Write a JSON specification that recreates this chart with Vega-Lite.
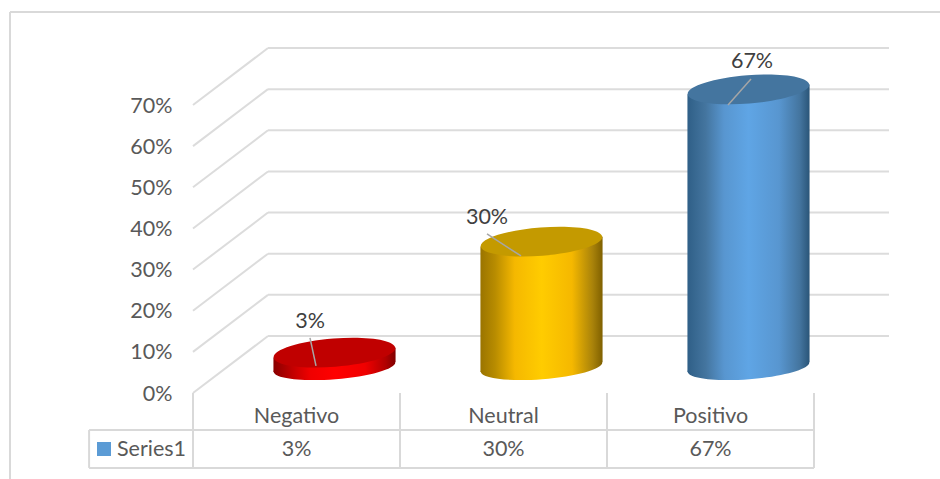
{
  "$schema": "https://vega.github.io/schema/vega-lite/v6.json",
  "width": 621,
  "height": 288,
  "autosize": "none",
  "padding": {"left": 193, "right": 126, "top": 105, "bottom": 86},
  "background": "white",
  "config": {
    "view": {"stroke": null},
    "numberFormat": ".0%",
    "axisX": {"disable": true},
    "axisY": {"domain": false, "ticks": false, "grid": false, "labelFont": "Lato", "labelFontSize": 21.5, "labelColor": "#595959", "labelPadding": 21, "labelOffset": 1},
    "text": {"font": "Lato", "fontSize": 21.5, "color": "#595959"}
  },
  "datasets": {
    "respuestas": [
      {"categoria": "Negativo", "orden": 0, "valor": 0.03},
      {"categoria": "Neutral", "orden": 1, "valor": 0.30},
      {"categoria": "Positivo", "orden": 2, "valor": 0.67}
    ],
    "niveles": [
      {"nivel": 0}, {"nivel": 0.1}, {"nivel": 0.2}, {"nivel": 0.3},
      {"nivel": 0.4}, {"nivel": 0.5}, {"nivel": 0.6}, {"nivel": 0.7}
    ],
    "columnas": [{"borde": 0}, {"borde": 1}, {"borde": 2}, {"borde": 3}],
    "serie": [{"nombre": "Series1"}]
  },
  "data": {"name": "respuestas"},
  "transform": [{"calculate": "datum.orden + 0.5", "as": "centro"}],
  "layer": [
    {
      "description": "Chart frame: left and top edges",
      "data": {"name": "serie"},
      "transform": [],
      "layer": [
        {
          "mark": {"type": "rule", "color": "#D9D9D9", "strokeWidth": 2},
          "encoding": {
            "x": {"datum": -0.884, "type": "quantitative", "scale": {"domain": [0, 3], "nice": false, "zero": false}},
            "y": {"datum": -0.209, "type": "quantitative", "axis": {"title": null}, "scale": {"domain": [0, 0.7], "nice": false, "zero": false}},
            "y2": {"datum": 0.926}
          }
        },
        {
          "mark": {"type": "rule", "color": "#D9D9D9", "strokeWidth": 2},
          "encoding": {
            "x": {"datum": -0.884, "type": "quantitative"},
            "x2": {"datum": 3.61},
            "y": {"datum": 0.926, "type": "quantitative"}
          }
        }
      ]
    },
    {
      "description": "Depth gridlines: the slanted floor edge and the back wall",
      "data": {"name": "niveles"},
      "transform": [],
      "layer": [
        {
          "mark": {"type": "rule", "color": "#DCDCDC", "strokeWidth": 2, "x2Offset": 75, "y2Offset": -57},
          "encoding": {
            "x": {"datum": 0, "type": "quantitative"},
            "x2": {"datum": 0},
            "y": {"field": "nivel", "type": "quantitative"},
            "y2": {"field": "nivel"}
          }
        },
        {
          "mark": {"type": "rule", "color": "#DCDCDC", "strokeWidth": 2, "xOffset": 75, "x2Offset": 75, "yOffset": -57},
          "encoding": {
            "x": {"datum": 0, "type": "quantitative"},
            "x2": {"datum": 3},
            "y": {"field": "nivel", "type": "quantitative"}
          }
        }
      ]
    },
    {
      "description": "Data table grid under the plot",
      "layer": [
        {
          "data": {"name": "columnas"},
          "transform": [],
          "mark": {"type": "rule", "color": "#D9D9D9", "strokeWidth": 2},
          "encoding": {
            "x": {"field": "borde", "type": "quantitative"},
            "y": {"datum": 0, "type": "quantitative"},
            "y2": {"datum": -0.182}
          }
        },
        {
          "data": {"name": "serie"},
          "transform": [],
          "layer": [
            {
              "mark": {"type": "rule", "color": "#D9D9D9", "strokeWidth": 2},
              "encoding": {
                "x": {"datum": -0.502, "type": "quantitative"},
                "y": {"datum": -0.09, "type": "quantitative"},
                "y2": {"datum": -0.182}
              }
            },
            {
              "mark": {"type": "rule", "color": "#D9D9D9", "strokeWidth": 2},
              "encoding": {
                "x": {"datum": -0.502, "type": "quantitative"},
                "x2": {"datum": 3},
                "y": {"datum": -0.09, "type": "quantitative"}
              }
            },
            {
              "mark": {"type": "rule", "color": "#D9D9D9", "strokeWidth": 2},
              "encoding": {
                "x": {"datum": -0.502, "type": "quantitative"},
                "x2": {"datum": 3},
                "y": {"datum": -0.182, "type": "quantitative"}
              }
            }
          ]
        }
      ]
    },
    {
      "description": "Data table text: category row, value row and the series key",
      "layer": [
        {
          "mark": {"type": "text", "yOffset": 24},
          "encoding": {
            "x": {"field": "centro", "type": "quantitative"},
            "y": {"datum": 0, "type": "quantitative"},
            "text": {"field": "categoria"}
          }
        },
        {
          "mark": {"type": "text", "yOffset": 57},
          "encoding": {
            "x": {"field": "centro", "type": "quantitative"},
            "y": {"datum": 0, "type": "quantitative"},
            "text": {"field": "valor", "format": ".0%"}
          }
        },
        {
          "data": {"name": "serie"},
          "transform": [],
          "layer": [
            {
              "mark": {"type": "point", "shape": "square", "filled": true, "opacity": 1, "strokeWidth": 0, "size": 196, "color": "#5B9BD5", "xOffset": -89, "yOffset": 56},
              "encoding": {
                "x": {"datum": 0, "type": "quantitative"},
                "y": {"datum": 0, "type": "quantitative"}
              }
            },
            {
              "mark": {"type": "text", "align": "left", "xOffset": -76, "yOffset": 57},
              "encoding": {
                "x": {"datum": 0, "type": "quantitative"},
                "y": {"datum": 0, "type": "quantitative"},
                "text": {"field": "nombre"}
              }
            }
          ]
        }
      ]
    },
    {
      "description": "Negativo cylinder",
      "transform": [{"filter": "datum.categoria === 'Negativo'"}],
      "layer": [
        {
          "mark": {"type": "point", "filled": true, "opacity": 1, "strokeWidth": 0, "size": 14884, "angle": -4.5, "xOffset": 38, "yOffset": -26,
            "shape": "M-1,0A1,0.2 0 1 0 1,0A1,0.2 0 1 0 -1,0Z",
            "fill": {"gradient": "linear", "x1": 0, "x2": 1, "y1": 0, "y2": 0, "stops": [{"offset": 0, "color": "#8A0000"}, {"offset": 0.15, "color": "#C00000"}, {"offset": 0.3, "color": "#F00000"}, {"offset": 0.5, "color": "#FF0000"}, {"offset": 0.75, "color": "#F00000"}, {"offset": 0.92, "color": "#B00000"}, {"offset": 1, "color": "#800000"}]}},
          "encoding": {
            "x": {"field": "centro", "type": "quantitative"},
            "y": {"datum": 0, "type": "quantitative"}
          }
        },
        {
          "transform": [
            {"calculate": "[-1, 1]", "as": "lado"},
            {"flatten": ["lado"]},
            {"calculate": "datum.centro + datum.lado * 0.295", "as": "borde"},
            {"calculate": "datum.valor + datum.lado * 0.012", "as": "alto"},
            {"calculate": "datum.lado * 0.012", "as": "base"}
          ],
          "mark": {"type": "area", "xOffset": 38, "yOffset": -28, "y2Offset": -26,
            "fill": {"gradient": "linear", "x1": 0, "x2": 1, "y1": 0, "y2": 0, "stops": [{"offset": 0, "color": "#8A0000"}, {"offset": 0.15, "color": "#C00000"}, {"offset": 0.3, "color": "#F00000"}, {"offset": 0.5, "color": "#FF0000"}, {"offset": 0.75, "color": "#F00000"}, {"offset": 0.92, "color": "#B00000"}, {"offset": 1, "color": "#800000"}]}},
          "encoding": {
            "x": {"field": "borde", "type": "quantitative"},
            "y": {"field": "alto", "type": "quantitative"},
            "y2": {"field": "base"}
          }
        },
        {
          "mark": {"type": "point", "filled": true, "opacity": 1, "strokeWidth": 0, "size": 14884, "angle": -4.5, "xOffset": 38, "yOffset": -28, "color": "#C00000",
            "shape": "M-1,0A1,0.232 0 1 0 1,0A1,0.232 0 1 0 -1,0Z"},
          "encoding": {
            "x": {"field": "centro", "type": "quantitative"},
            "y": {"field": "valor", "type": "quantitative"}
          }
        },
        {
          "mark": {"type": "rule", "color": "#A6A6A6", "strokeWidth": 1.5, "xOffset": 13.5, "yOffset": -42.7, "x2Offset": 19.5, "y2Offset": -14.7},
          "encoding": {
            "x": {"field": "centro", "type": "quantitative"},
            "x2": {"field": "centro"},
            "y": {"field": "valor", "type": "quantitative"},
            "y2": {"field": "valor"}
          }
        },
        {
          "mark": {"type": "text", "color": "#404040", "xOffset": 13.5, "yOffset": -58.7},
          "encoding": {
            "x": {"field": "centro", "type": "quantitative"},
            "y": {"field": "valor", "type": "quantitative"},
            "text": {"field": "valor", "format": ".0%"}
          }
        }
      ]
    },
    {
      "description": "Neutral cylinder",
      "transform": [{"filter": "datum.categoria === 'Neutral'"}],
      "layer": [
        {
          "mark": {"type": "point", "filled": true, "opacity": 1, "strokeWidth": 0, "size": 14884, "angle": -4.5, "xOffset": 38, "yOffset": -26,
            "shape": "M-1,0A1,0.2 0 1 0 1,0A1,0.2 0 1 0 -1,0Z",
            "fill": {"gradient": "linear", "x1": 0, "x2": 1, "y1": 0, "y2": 0, "stops": [{"offset": 0, "color": "#9A7400"}, {"offset": 0.12, "color": "#B88C00"}, {"offset": 0.28, "color": "#F5B800"}, {"offset": 0.5, "color": "#FFCC00"}, {"offset": 0.75, "color": "#F5B800"}, {"offset": 0.92, "color": "#A8820A"}, {"offset": 1, "color": "#7F6000"}]}},
          "encoding": {
            "x": {"field": "centro", "type": "quantitative"},
            "y": {"datum": 0, "type": "quantitative"}
          }
        },
        {
          "transform": [
            {"calculate": "[-1, 1]", "as": "lado"},
            {"flatten": ["lado"]},
            {"calculate": "datum.centro + datum.lado * 0.295", "as": "borde"},
            {"calculate": "datum.valor + datum.lado * 0.012", "as": "alto"},
            {"calculate": "datum.lado * 0.012", "as": "base"}
          ],
          "mark": {"type": "area", "xOffset": 38, "yOffset": -28, "y2Offset": -26,
            "fill": {"gradient": "linear", "x1": 0, "x2": 1, "y1": 0, "y2": 0, "stops": [{"offset": 0, "color": "#9A7400"}, {"offset": 0.12, "color": "#B88C00"}, {"offset": 0.28, "color": "#F5B800"}, {"offset": 0.5, "color": "#FFCC00"}, {"offset": 0.75, "color": "#F5B800"}, {"offset": 0.92, "color": "#A8820A"}, {"offset": 1, "color": "#7F6000"}]}},
          "encoding": {
            "x": {"field": "borde", "type": "quantitative"},
            "y": {"field": "alto", "type": "quantitative"},
            "y2": {"field": "base"}
          }
        },
        {
          "mark": {"type": "point", "filled": true, "opacity": 1, "strokeWidth": 0, "size": 14884, "angle": -4.5, "xOffset": 38, "yOffset": -28, "color": "#C49A00",
            "shape": "M-1,0A1,0.232 0 1 0 1,0A1,0.232 0 1 0 -1,0Z"},
          "encoding": {
            "x": {"field": "centro", "type": "quantitative"},
            "y": {"field": "valor", "type": "quantitative"}
          }
        },
        {
          "mark": {"type": "rule", "color": "#A6A6A6", "strokeWidth": 1.5, "xOffset": -16.5, "yOffset": -35.6, "x2Offset": 17.5, "y2Offset": -13.6},
          "encoding": {
            "x": {"field": "centro", "type": "quantitative"},
            "x2": {"field": "centro"},
            "y": {"field": "valor", "type": "quantitative"},
            "y2": {"field": "valor"}
          }
        },
        {
          "mark": {"type": "text", "color": "#404040", "xOffset": -16.5, "yOffset": -52},
          "encoding": {
            "x": {"field": "centro", "type": "quantitative"},
            "y": {"field": "valor", "type": "quantitative"},
            "text": {"field": "valor", "format": ".0%"}
          }
        }
      ]
    },
    {
      "description": "Positivo cylinder",
      "transform": [{"filter": "datum.categoria === 'Positivo'"}],
      "layer": [
        {
          "mark": {"type": "point", "filled": true, "opacity": 1, "strokeWidth": 0, "size": 14884, "angle": -4.5, "xOffset": 38, "yOffset": -26,
            "shape": "M-1,0A1,0.2 0 1 0 1,0A1,0.2 0 1 0 -1,0Z",
            "fill": {"gradient": "linear", "x1": 0, "x2": 1, "y1": 0, "y2": 0, "stops": [{"offset": 0, "color": "#2F5F87"}, {"offset": 0.15, "color": "#44759F"}, {"offset": 0.3, "color": "#5896D0"}, {"offset": 0.5, "color": "#5FA5E5"}, {"offset": 0.75, "color": "#5896D0"}, {"offset": 0.92, "color": "#44759F"}, {"offset": 1, "color": "#2A5578"}]}},
          "encoding": {
            "x": {"field": "centro", "type": "quantitative"},
            "y": {"datum": 0, "type": "quantitative"}
          }
        },
        {
          "transform": [
            {"calculate": "[-1, 1]", "as": "lado"},
            {"flatten": ["lado"]},
            {"calculate": "datum.centro + datum.lado * 0.295", "as": "borde"},
            {"calculate": "datum.valor + datum.lado * 0.012", "as": "alto"},
            {"calculate": "datum.lado * 0.012", "as": "base"}
          ],
          "mark": {"type": "area", "xOffset": 38, "yOffset": -28, "y2Offset": -26,
            "fill": {"gradient": "linear", "x1": 0, "x2": 1, "y1": 0, "y2": 0, "stops": [{"offset": 0, "color": "#2F5F87"}, {"offset": 0.15, "color": "#44759F"}, {"offset": 0.3, "color": "#5896D0"}, {"offset": 0.5, "color": "#5FA5E5"}, {"offset": 0.75, "color": "#5896D0"}, {"offset": 0.92, "color": "#44759F"}, {"offset": 1, "color": "#2A5578"}]}},
          "encoding": {
            "x": {"field": "borde", "type": "quantitative"},
            "y": {"field": "alto", "type": "quantitative"},
            "y2": {"field": "base"}
          }
        },
        {
          "mark": {"type": "point", "filled": true, "opacity": 1, "strokeWidth": 0, "size": 14884, "angle": -4.5, "xOffset": 38, "yOffset": -28, "color": "#44759F",
            "shape": "M-1,0A1,0.232 0 1 0 1,0A1,0.232 0 1 0 -1,0Z"},
          "encoding": {
            "x": {"field": "centro", "type": "quantitative"},
            "y": {"field": "valor", "type": "quantitative"}
          }
        },
        {
          "mark": {"type": "rule", "color": "#A6A6A6", "strokeWidth": 1.5, "xOffset": 40.5, "yOffset": -38.4, "x2Offset": 17.5, "y2Offset": -12.4},
          "encoding": {
            "x": {"field": "centro", "type": "quantitative"},
            "x2": {"field": "centro"},
            "y": {"field": "valor", "type": "quantitative"},
            "y2": {"field": "valor"}
          }
        },
        {
          "mark": {"type": "text", "color": "#404040", "xOffset": 41.5, "yOffset": -55.4},
          "encoding": {
            "x": {"field": "centro", "type": "quantitative"},
            "y": {"field": "valor", "type": "quantitative"},
            "text": {"field": "valor", "format": ".0%"}
          }
        }
      ]
    }
  ]
}
